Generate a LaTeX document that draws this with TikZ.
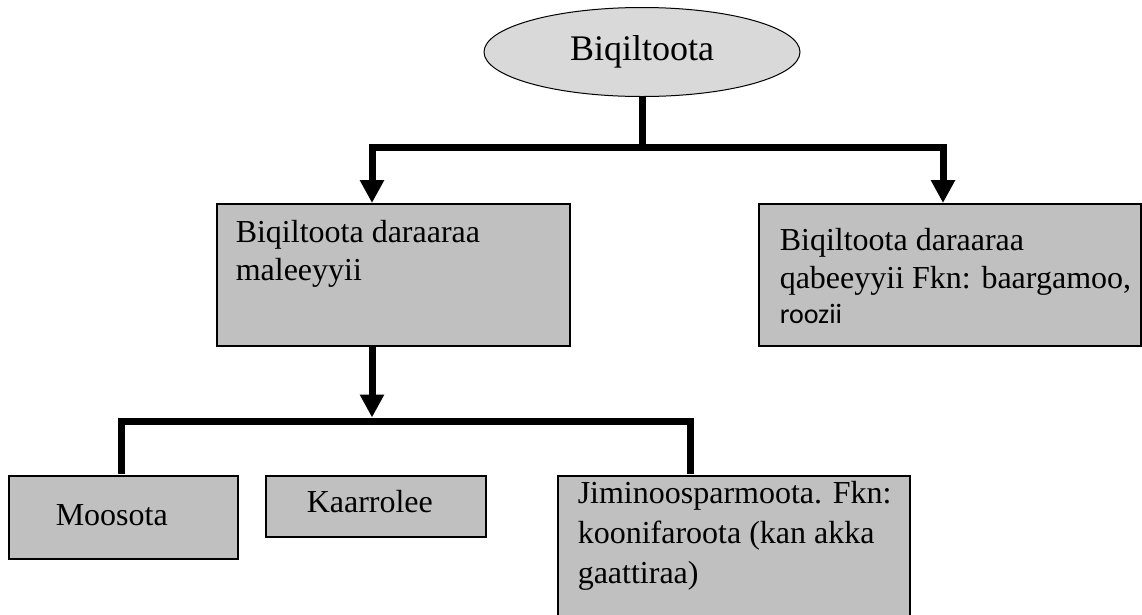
\documentclass[tikz,border=0pt]{standalone}
\usepackage{fontspec}
\setmainfont{Liberation Serif}
\newfontfamily\calibrifont{Carlito}
\usepackage{tikz}
\usetikzlibrary{positioning}
\usetikzlibrary{shapes.geometric}
\usetikzlibrary{arrows.meta}
\definecolor{boxgrey}{HTML}{C0C0C0}
\definecolor{rootgrey}{HTML}{D9D9D9}

\begin{document}
\begin{tikzpicture}[x=1pt,y=-1pt,
    box/.style={draw,fill=boxgrey,line width=1.5pt,inner ysep=0pt,anchor=north west,align=flush left,font=\fontsize{32}{38}\selectfont},
    bar/.style={line width=7pt,line join=miter},
    down/.style={bar,-{Triangle[width=23pt,length=23pt]}}]
  \useasboundingbox (0,0) rectangle (1142,614);
  \clip (0,0) rectangle (1142,614);

  \node at (642,52) [ellipse,draw,fill=rootgrey,line width=1pt,minimum width=316pt,minimum height=89pt,font=\fontsize{36}{40}\selectfont] (root) {
    Biqiltoota
  };

  \node at (216,203) [box,inner xsep=19pt,text width=315pt,text height=39pt,text depth=103pt] (male) {
    Biqiltoota daraaraa\\maleeyyii
  };

  \node at (758,203) [box,inner xsep=21pt,text width=340pt,text height=47pt,text depth=95pt] (qabe) {
    Biqiltoota daraaraa\\\mbox{qabeeyyii Fkn: baargamoo,}\\[-3pt]{\calibrifont\fontsize{28}{34}\selectfont roozii}
  };

  \node at (8,475) [box,inner xsep=47pt,text width=135pt,text height=50pt,text depth=33pt] (moos) {
    Moosota
  };

  \node at (265,475) [box,inner xsep=41pt,text width=138pt,text height=37pt,text depth=24pt] (kaar) {
    Kaarrolee
  };

  \node at (557,475) [box,inner xsep=20pt,text width=312pt,text height=28pt,text depth=140pt,font=\fontsize{32}{40}\selectfont] (jimi) {
    \mbox{Jiminoosparmoota. Fkn:}\\\mbox{koonifaroota (kan akka}\\gaattiraa)
  };

  \coordinate (fork) at (642,147);
  \coordinate (maleIn) at (372,203);
  \coordinate (qabeIn) at (943,203);
  \coordinate (maleOut) at (372,345);
  \coordinate (split) at (372,417.5);
  \coordinate (rail) at (372,421);
  \coordinate (moosIn) at (121,474);
  \coordinate (jimiIn) at (690,474);

  \draw[bar] (root.south) -- (fork);
  \draw[down] (fork) -| (maleIn);
  \draw[down] (fork) -| (qabeIn);
  \draw[down] (maleOut) -- (split);
  \draw[bar] (moosIn) |- (rail) -| (jimiIn);
\end{tikzpicture}
\end{document}
